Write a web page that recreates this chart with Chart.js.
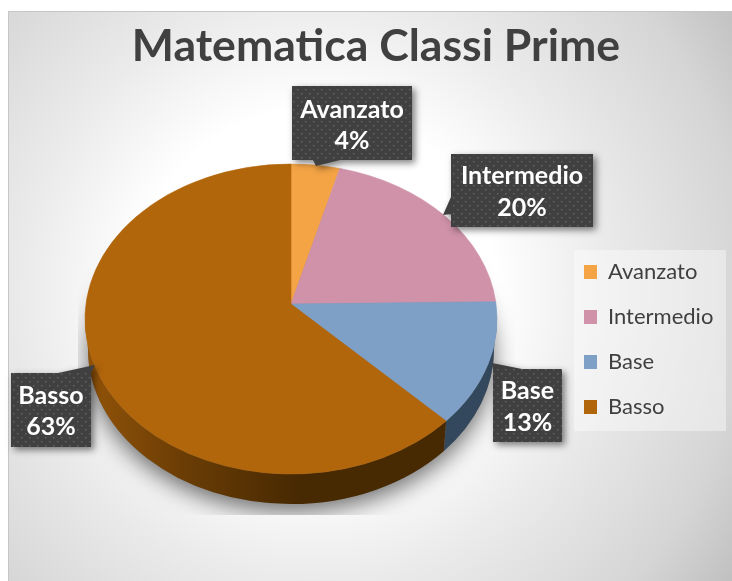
<!DOCTYPE html>
<html>
<head>
<meta charset="utf-8">
<style>html,body{margin:0;padding:0;background:#fff}canvas{display:block}</style>
<script src="https://cdn.jsdelivr.net/npm/chart.js@4/dist/chart.umd.min.js"></script>
</head>
<body>
<canvas id="c" width="732" height="581"></canvas>
<script>
const titleText = 'Matematica Classi Prime';
const categories = ['Avanzato', 'Intermedio', 'Base', 'Basso'];
const percentages = [4, 20, 13, 63];
const sliceColors = ['#f4a445', '#cf92a8', '#7fa0c6', '#b2660c'];

const SQUASH = 155 / 206, APEX_LIFT = 15, WALL = 30, WALL_RX = 203, PERSPECTIVE = 0.049;
const FONT = 'Lato, Carlito, sans-serif';

// Callout placement per category
const callouts = [
  {box:[292,86,120,74], tip:[[313,160],[316,166],[340,160]], lines:[110,141]},
  {box:[451,154,142,73], tip:[[451,197],[443,215],[451,214]], lines:[176,208]},
  {box:[493,369,69,73], tip:[[493,369],[492,363],[522,369]], lines:[391,423]},
  {box:[11,373,80,74], tip:[[58,373],[95,365],[91,373]], lines:[396,427]}
];

// A tilted pie seen in perspective: rim angles slide slightly toward the viewer
const warp = a => a - PERSPECTIVE * Math.cos(a);

Chart.ArcElement.prototype.draw = function (ctx) {
  const {x, y, startAngle, endAngle, outerRadius: r} = this.getProps(['x','y','startAngle','endAngle','outerRadius']);
  ctx.save();
  ctx.beginPath();
  ctx.moveTo(x, y - APEX_LIFT);
  ctx.ellipse(x, y, r, r * SQUASH, 0, warp(startAngle), warp(endAngle));
  ctx.closePath();
  ctx.fillStyle = this.options.backgroundColor;
  ctx.strokeStyle = this.options.backgroundColor;
  ctx.lineWidth = 0.6;
  ctx.fill();
  ctx.stroke();
  ctx.restore();
};

const scene = {
  id: 'scene',
  afterLayout(chart) {
    const t = chart.titleBlock;
    t.left = 0; t.right = 752; t.width = 752;
    const l = chart.legend;
    l.left = 561; l.top = 238; l.right = 732; l.bottom = 575; l.width = 171; l.height = 337;
  },
  beforeDraw(chart) {
    const c = chart.ctx;
    c.save();
    c.fillStyle = '#fff';
    c.fillRect(0, 0, 732, 581);
    const g = c.createRadialGradient(315, 290, 100, 315, 290, 520);
    g.addColorStop(0, '#ffffff');
    g.addColorStop(0.19, '#ffffff');
    g.addColorStop(0.45, '#ebebeb');
    g.addColorStop(0.79, '#d5d5d5');
    g.addColorStop(1, '#bdbdbd');
    c.fillStyle = g;
    c.fillRect(8, 11, 724, 570);
    c.fillStyle = '#c6c6c6';
    c.fillRect(8, 11, 724, 1);
    c.fillRect(8, 11, 1, 570);
    c.fillStyle = 'rgba(255,255,255,0.4)';
    c.fillRect(574, 250, 152, 181);
    c.restore();
  },
  beforeDatasetsDraw(chart) {
    const c = chart.ctx;
    const els = chart.getDatasetMeta(0).data;
    const {x, y, outerRadius: r} = els[0].getProps(['x','y','outerRadius']);
    const ry = r * SQUASH;
    // cast shadow, cut off at the bottom of the plot area
    c.save();
    c.beginPath();
    c.rect(78, 150, 437, 365);
    c.clip();
    c.shadowColor = 'rgba(0,0,0,0.55)';
    c.shadowBlur = 22;
    c.shadowOffsetY = 8;
    c.fillStyle = '#777';
    c.beginPath();
    c.ellipse(x, y + WALL, WALL_RX, ry, 0, 0, Math.PI * 2);
    c.fill();
    c.restore();
    // side wall, following each slice's own angles
    els.forEach((el, i) => {
      const {startAngle: a0, endAngle: a1} = el.getProps(['startAngle','endAngle']);
      const a = Math.max(warp(a0), 0), b = Math.min(warp(a1), Math.PI);
      if (b <= a) return;
      const grad = c.createLinearGradient(85, 0, 300, 0);
      if (i === 3) {
        grad.addColorStop(0, '#935409');
        grad.addColorStop(0.45, '#6b3d05');
        grad.addColorStop(1, '#472902');
      } else {
        grad.addColorStop(0, '#34485d');
        grad.addColorStop(1, '#34485d');
      }
      c.save();
      c.beginPath();
      c.ellipse(x, y, r, ry, 0, a, b);
      c.ellipse(x, y + WALL, WALL_RX, ry, 0, b, a, true);
      c.closePath();
      c.fillStyle = grad;
      c.fill();
      c.restore();
    });
  },
  afterDraw(chart) {
    const c = chart.ctx;
    const tile = document.createElement('canvas');
    tile.width = tile.height = 8;
    const tc = tile.getContext('2d');
    tc.fillStyle = '#404040'; tc.fillRect(0, 0, 8, 8);
    tc.fillStyle = '#616161'; tc.fillRect(1, 1, 1.5, 1.5); tc.fillRect(5, 5, 1.5, 1.5);
    const pattern = c.createPattern(tile, 'repeat');
    callouts.forEach((k, i) => {
      const [bx, by, bw, bh] = k.box;
      c.save();
      c.shadowColor = 'rgba(0,0,0,0.5)';
      c.shadowBlur = 7;
      c.shadowOffsetX = 3;
      c.shadowOffsetY = 3;
      c.fillStyle = '#404040';
      c.beginPath();
      c.rect(bx, by, bw, bh);
      c.moveTo(k.tip[0][0], k.tip[0][1]);
      c.lineTo(k.tip[1][0], k.tip[1][1]);
      c.lineTo(k.tip[2][0], k.tip[2][1]);
      c.closePath();
      c.fill();
      c.restore();
      c.save();
      c.fillStyle = pattern;
      c.fillRect(bx, by, bw, bh);
      c.fillStyle = '#fff';
      c.font = 'bold 25px ' + FONT;
      c.textAlign = 'center';
      c.textBaseline = 'middle';
      c.fillText(categories[i], bx + bw / 2, k.lines[0]);
      c.fillText(percentages[i] + '%', bx + bw / 2, k.lines[1]);
      c.restore();
    });
  }
};

new Chart(document.getElementById('c'), {
  type: 'pie',
  data: {
    labels: categories,
    datasets: [{data: percentages, backgroundColor: sliceColors, borderWidth: 0}]
  },
  options: {
    responsive: false,
    animation: false,
    layout: {padding: {left: 85, right: 235, top: 0, bottom: 56}},
    plugins: {
      tooltip: {enabled: false},
      title: {
        display: true,
        text: titleText,
        color: '#404040',
        font: {family: FONT, size: 44.6, weight: 'bold', lineHeight: 1.2},
        padding: {top: 20.2, bottom: 39.3}
      },
      legend: {
        display: true,
        position: 'chartArea',
        align: 'start',
        labels: {
          color: '#404040',
          font: {family: FONT, size: 22},
          boxWidth: 13,
          boxHeight: 14,
          padding: 23
        }
      }
    }
  },
  plugins: [scene]
});
</script>
</body>
</html>
